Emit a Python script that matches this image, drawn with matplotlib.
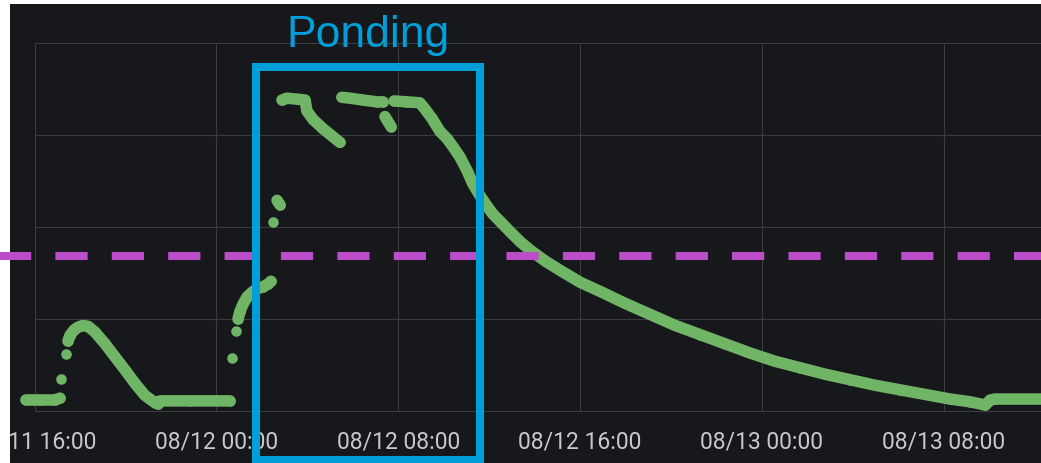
import matplotlib
matplotlib.use('Agg')
import matplotlib.pyplot as plt
import matplotlib.dates as mdates
import matplotlib.patches as patches
import matplotlib.transforms as mtransforms
from matplotlib.lines import Line2D
import pandas as pd

# sensor readings (seg = run of consecutive samples drawn as one stroke)
times = ['2023-08-11 15:37', '2023-08-11 16:14', '2023-08-11 16:53', '2023-08-11 17:07',
         '2023-08-11 17:09', '2023-08-11 17:23',
         '2023-08-11 17:28', '2023-08-11 17:33', '2023-08-11 17:44', '2023-08-11 17:54', '2023-08-11 18:07',
         '2023-08-11 18:21', '2023-08-11 18:39', '2023-08-11 19:06', '2023-08-11 19:32', '2023-08-11 19:58',
         '2023-08-11 20:25', '2023-08-11 20:51', '2023-08-11 21:18', '2023-08-11 21:26', '2023-08-11 21:31',
         '2023-08-11 22:50', '2023-08-12 00:36',
         '2023-08-12 00:41', '2023-08-12 00:51',
         '2023-08-12 00:57', '2023-08-12 01:02', '2023-08-12 01:10', '2023-08-12 01:21', '2023-08-12 01:34',
         '2023-08-12 01:47', '2023-08-12 02:03', '2023-08-12 02:16', '2023-08-12 02:24',
         '2023-08-12 02:29', '2023-08-12 02:40', '2023-08-12 02:48',
         '2023-08-12 02:53', '2023-08-12 03:06', '2023-08-12 03:33', '2023-08-12 03:54', '2023-08-12 03:59',
         '2023-08-12 04:15', '2023-08-12 04:41', '2023-08-12 05:08', '2023-08-12 05:26',
         '2023-08-12 05:31', '2023-08-12 05:53', '2023-08-12 06:27', '2023-08-12 07:04', '2023-08-12 07:20',
         '2023-08-12 07:25', '2023-08-12 07:41',
         '2023-08-12 07:49', '2023-08-12 08:23', '2023-08-12 08:57', '2023-08-12 09:11', '2023-08-12 09:29',
         '2023-08-12 09:50', '2023-08-12 10:09', '2023-08-12 10:25', '2023-08-12 10:43', '2023-08-12 11:02',
         '2023-08-12 11:17', '2023-08-12 11:36', '2023-08-12 11:54', '2023-08-12 12:10', '2023-08-12 12:28',
         '2023-08-12 12:55', '2023-08-12 13:22', '2023-08-12 13:48', '2023-08-12 14:28', '2023-08-12 15:07',
         '2023-08-12 16:00', '2023-08-12 16:53', '2023-08-12 17:59', '2023-08-12 19:05', '2023-08-12 20:11',
         '2023-08-12 21:17', '2023-08-12 22:23', '2023-08-12 23:29', '2023-08-13 00:35', '2023-08-13 01:41',
         '2023-08-13 02:47', '2023-08-13 03:53', '2023-08-13 04:59', '2023-08-13 06:05', '2023-08-13 07:11',
         '2023-08-13 08:17', '2023-08-13 09:10', '2023-08-13 09:50', '2023-08-13 10:03', '2023-08-13 10:16',
         '2023-08-13 12:30']
values = [1.2, 1.2, 1.2, 1.4,
          3.5, 6.2,
          7.6, 8.2, 8.8, 9.1, 9.3,
          9.2, 8.6, 7.3, 5.9, 4.5,
          3.0, 1.7, 0.9, 0.75, 1.1,
          1.1, 1.1,
          5.8, 8.7,
          10.0, 10.8, 11.6, 12.4, 12.9,
          13.3, 13.5, 13.8, 14.1,
          20.5, 22.9, 22.4,
          33.8, 34.0, 33.9, 33.8, 32.6,
          31.7, 30.7, 29.8, 29.2,
          34.1, 34.0, 33.8, 33.6, 33.6,
          32.0, 30.9,
          33.7, 33.6, 33.5, 32.8, 31.8,
          30.4, 29.6, 28.7, 27.6, 26.1,
          24.7, 23.4, 22.3, 21.4, 20.65,
          19.5, 18.4, 17.5, 16.3, 15.3,
          14.0, 13.0, 11.7, 10.5, 9.3,
          8.3, 7.3, 6.3, 5.4, 4.7,
          4.0, 3.4, 2.8, 2.3, 1.8,
          1.3, 1.0, 0.65, 1.2, 1.3,
          1.3]
seg_sizes = [4, 1, 1, 17, 1, 1, 9, 1, 2, 9, 5, 2, 41]
seg = [i for i, n in enumerate(seg_sizes) for _ in range(n)]

tick_times = ['2023-08-11 16:00', '2023-08-12 00:00', '2023-08-12 08:00',
              '2023-08-12 16:00', '2023-08-13 00:00', '2023-08-13 08:00']
x_range = ['2023-08-11 14:55', '2023-08-13 12:17']
y_grid = [0, 10, 20, 30, 40]
threshold = 16.8
note = 'Ponding'

W, H = 1041, 464
bg = '#17181b'
grid_c = '#3b3c40'
blue = '#009fda'

plt.rcParams['font.family'] = ['Roboto', 'DejaVu Sans']

df = pd.DataFrame({'time': pd.to_datetime(times), 'value': values, 'seg': seg})

fig = plt.figure(figsize=(W / 100, H / 100), dpi=100)
fig.patch.set_facecolor(bg)
ax = fig.add_axes([10 / W, (H - 412) / H, 1 - 10 / W, (412 - 44) / H])
ax.set_facecolor(bg)
for s in ax.spines.values():
    s.set_visible(False)

xlim = pd.to_datetime(x_range)
ax.set_xlim(xlim)
ax.set_ylim(0, 40)
ax.set_xticks(pd.to_datetime(tick_times))
ax.xaxis.set_major_formatter(mdates.DateFormatter('%m/%d %H:%M'))
ax.tick_params(axis='x', length=0, pad=13, labelsize=16.5, labelcolor='#c9c9cc')
ax.set_yticks([])
ax.set_axisbelow(True)
ax.grid(axis='x', color=grid_c, lw=0.8)
ax.hlines(y_grid, pd.to_datetime(tick_times[0]), xlim[1], color=grid_c, lw=0.8, zorder=0.5, clip_on=False)

for _, g in df.groupby('seg'):
    ax.plot(g['time'], g['value'], color='#70b565', lw=8.3, marker='o', ms=7.6, mec='none',
            solid_capstyle='round', solid_joinstyle='round', zorder=3)

# white strips of the screenshot border
fig.add_artist(patches.Rectangle((0, (H - 5) / H), 1, 5 / H, transform=fig.transFigure,
                                 fc='white', ec='none', zorder=10))
fig.add_artist(patches.Rectangle((0, 0), 10 / W, 1, transform=fig.transFigure,
                                 fc='white', ec='none', zorder=10))

# threshold line runs past the panel edge
trans = mtransforms.blended_transform_factory(fig.transFigure, ax.transData)
fig.add_artist(Line2D([-15 / W, 1], [threshold, threshold], transform=trans, color='#bb4dc9',
                      lw=5.8, dashes=(4, 3), zorder=11))

fig.add_artist(patches.Rectangle((256 / W, (H - 461) / H), (480 - 256) / W, (461 - 68) / H,
                                 transform=fig.transFigure, fill=False, ec=blue, lw=5.8,
                                 joinstyle='miter', zorder=12))
fig.text(368 / W, (H - 47) / H, note, ha='center', va='baseline', fontsize=32, color=blue,
         family='Liberation Sans', zorder=12)

fig.savefig('out.png', dpi=100, facecolor=fig.get_facecolor())
